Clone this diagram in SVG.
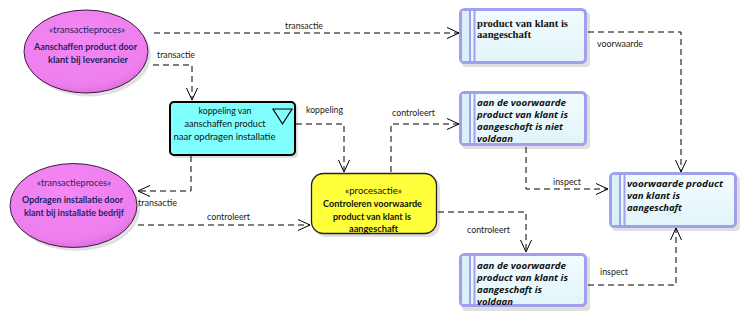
<svg xmlns="http://www.w3.org/2000/svg" width="747" height="318" viewBox="0 0 747 318">
<defs>
<style>
text{lengthAdjust:spacingAndGlyphs}
.lbl{font-family:Lato,"Liberation Sans",sans-serif;font-size:9.5px;fill:#222}
.st{font-family:Lato,"Liberation Sans",sans-serif;font-size:9.5px;fill:#1f1f5f;text-anchor:middle}
.bt{font-family:Lato,"Liberation Sans",sans-serif;font-size:9.5px;font-weight:bold;fill:#1f1f5f;text-anchor:middle}
.ct{font-family:Lato,"Liberation Sans",sans-serif;font-size:9.5px;fill:#111;text-anchor:middle}
.yt{font-family:Lato,"Liberation Sans",sans-serif;font-size:9.5px;font-weight:bold;fill:#111;text-anchor:middle}
.sf{font-family:"Liberation Serif","DejaVu Serif",serif;font-size:11px;font-weight:bold;fill:#111}
.it{font-family:"Open Sans","Liberation Sans",sans-serif;font-size:9.5px;font-weight:bold;font-style:italic;fill:#111}
.con{fill:none;stroke:#000;stroke-width:1;stroke-dasharray:6,4;marker-end:url(#arr)}
.box{fill:url(#bg);stroke:#a0a0ee;stroke-width:3}
.stripe{stroke:#a0a0ee;stroke-width:2}
.sh{fill:#000;opacity:0.12}
</style>
<linearGradient id="bg" x1="0" y1="0" x2="0" y2="1">
<stop offset="0" stop-color="#f2fcff"/>
<stop offset="1" stop-color="#e2f4f9"/>
</linearGradient>
<radialGradient id="vg" cx="0.45" cy="0.35" r="0.7">
<stop offset="0" stop-color="#f488f4"/>
<stop offset="0.8" stop-color="#ee7eee"/>
<stop offset="1" stop-color="#d868d8"/>
</radialGradient>
<marker id="arr" markerUnits="userSpaceOnUse" markerWidth="14" markerHeight="14" refX="12" refY="6" orient="auto" overflow="visible">
<path d="M0,0.5 L12,6 L0,11.5" fill="none" stroke="#000" stroke-width="1"/>
</marker>
</defs>

<g id="connectors">
<path class="con" d="M154,33 H459"/>
<text class="lbl" x="285" y="29" textLength="38" lengthAdjust="spacingAndGlyphs">transactie</text>
<path class="con" d="M153,65 H192 V100"/>
<text class="lbl" x="157" y="58" textLength="38" lengthAdjust="spacingAndGlyphs">transactie</text>
<path class="con" d="M296,124 H344 V172"/>
<text class="lbl" x="306" y="113" textLength="37" lengthAdjust="spacingAndGlyphs">koppeling</text>
<path class="con" d="M391,172 V124 H459"/>
<text class="lbl" x="392" y="116" textLength="43" lengthAdjust="spacingAndGlyphs">controleert</text>
<path class="con" d="M588,32 H681 V172"/>
<text class="lbl" x="597" y="47" textLength="46" lengthAdjust="spacingAndGlyphs">voorwaarde</text>
<path class="con" d="M526,147 V189 H608"/>
<text class="lbl" x="553" y="185" textLength="28" lengthAdjust="spacingAndGlyphs">inspect</text>
<path class="con" d="M588,285 H676 V228"/>
<text class="lbl" x="600" y="275" textLength="28" lengthAdjust="spacingAndGlyphs">inspect</text>
<path class="con" d="M438,212 H526 V252"/>
<text class="lbl" x="467" y="233" textLength="43" lengthAdjust="spacingAndGlyphs">controleert</text>
<path class="con" d="M191,156 V191 H138"/>
<text class="lbl" x="138" y="206" textLength="39" lengthAdjust="spacingAndGlyphs">transactie</text>
<path class="con" d="M138,225 H310"/>
<text class="lbl" x="207" y="220" textLength="43" lengthAdjust="spacingAndGlyphs">controleert</text>
</g>

<g id="n1">
<ellipse class="sh" cx="89" cy="55" rx="62" ry="41.5"/>
<ellipse cx="86" cy="51.5" rx="62" ry="41.5" fill="url(#vg)" stroke="#3a1a3a" stroke-width="1"/>
<text class="st" x="87" y="33" textLength="76" lengthAdjust="spacingAndGlyphs">«transactieproces»</text>
<text class="bt" x="85.5" y="50" textLength="103" lengthAdjust="spacingAndGlyphs">Aanschaffen product door</text>
<text class="bt" x="88" y="63" textLength="80" lengthAdjust="spacingAndGlyphs">klant bij leverancier</text>
</g>

<g id="n2">
<ellipse class="sh" cx="76.5" cy="209" rx="63.5" ry="42"/>
<ellipse cx="73.5" cy="205.5" rx="63.5" ry="42" fill="url(#vg)" stroke="#3a1a3a" stroke-width="1"/>
<text class="st" x="74" y="186" textLength="74" lengthAdjust="spacingAndGlyphs">«transactieproces»</text>
<text class="bt" x="72.5" y="203" textLength="101" lengthAdjust="spacingAndGlyphs">Opdragen installatie door</text>
<text class="bt" x="74" y="216" textLength="100" lengthAdjust="spacingAndGlyphs">klant bij installatie bedrijf</text>
</g>

<g id="n3">
<rect class="sh" x="172" y="104" width="126" height="54" rx="4"/>
<rect x="170" y="102" width="125" height="53" rx="4" fill="#80ffff" stroke="#000" stroke-width="2"/>
<path d="M273,109 H292 L282.5,124 Z" fill="none" stroke="#000" stroke-width="1.2"/>
<text class="ct" x="225" y="114" textLength="53" lengthAdjust="spacingAndGlyphs">koppeling van</text>
<text class="ct" x="225" y="127" textLength="81" lengthAdjust="spacingAndGlyphs">aanschaffen product</text>
<text class="ct" x="224.5" y="140" textLength="102" lengthAdjust="spacingAndGlyphs">naar opdragen installatie</text>
</g>

<g id="n4">
<rect class="sh" x="314" y="176" width="126" height="61" rx="12"/>
<rect x="311.5" y="173.5" width="125" height="60" rx="12" fill="#ffff3c" stroke="#222" stroke-width="1.3"/>
<text class="ct" x="373.5" y="194" textLength="57" lengthAdjust="spacingAndGlyphs">«procesactie»</text>
<text class="yt" x="372.5" y="206.5" textLength="99" lengthAdjust="spacingAndGlyphs">Controleren voorwaarde</text>
<text class="yt" x="372" y="219.5" textLength="78" lengthAdjust="spacingAndGlyphs">product van klant is</text>
<text class="yt" x="373.5" y="232" textLength="49" lengthAdjust="spacingAndGlyphs">aangeschaft</text>
</g>

<g id="n5">
<rect class="sh" x="462" y="12" width="128" height="55" rx="4"/>
<rect class="box" x="460.5" y="9.5" width="125" height="53" rx="4"/>
<rect x="462" y="11" width="8" height="50" fill="#daf0f8"/>
<line class="stripe" x1="470" y1="11" x2="470" y2="61"/>
<line class="stripe" x1="474.5" y1="11" x2="474.5" y2="61"/>
<text class="sf" x="477" y="26.5" textLength="91" lengthAdjust="spacingAndGlyphs">product van klant is</text>
<text class="sf" x="477" y="37.5" textLength="54" lengthAdjust="spacingAndGlyphs">aangeschaft</text>
</g>

<g id="n6">
<rect class="sh" x="462" y="94" width="128" height="55" rx="4"/>
<rect class="box" x="460.5" y="92.5" width="125" height="52" rx="4"/>
<rect x="462" y="94" width="8" height="49" fill="#daf0f8"/>
<line class="stripe" x1="470" y1="94" x2="470" y2="143"/>
<line class="stripe" x1="474.5" y1="94" x2="474.5" y2="143"/>
<text class="it" x="477" y="106" textLength="89" lengthAdjust="spacingAndGlyphs">aan de voorwaarde</text>
<text class="it" x="477" y="118" textLength="91" lengthAdjust="spacingAndGlyphs">product van klant is</text>
<text class="it" x="477" y="130" textLength="86" lengthAdjust="spacingAndGlyphs">aangeschaft is niet</text>
<text class="it" x="477" y="142" textLength="36" lengthAdjust="spacingAndGlyphs">voldaan</text>
</g>

<g id="n7">
<rect class="sh" x="462" y="256" width="128" height="55" rx="4"/>
<rect class="box" x="460.5" y="254.5" width="125" height="51" rx="4"/>
<rect x="462" y="256" width="8" height="48" fill="#daf0f8"/>
<line class="stripe" x1="470" y1="256" x2="470" y2="304"/>
<line class="stripe" x1="474.5" y1="256" x2="474.5" y2="304"/>
<text class="it" x="477" y="269" textLength="89" lengthAdjust="spacingAndGlyphs">aan de voorwaarde</text>
<text class="it" x="477" y="281" textLength="91" lengthAdjust="spacingAndGlyphs">product van klant is</text>
<text class="it" x="477" y="293" textLength="65" lengthAdjust="spacingAndGlyphs">aangeschaft is</text>
<text class="it" x="477" y="305" textLength="36" lengthAdjust="spacingAndGlyphs">voldaan</text>
</g>

<g id="n8">
<rect class="sh" x="612" y="176" width="128" height="55" rx="4"/>
<rect class="box" x="610.5" y="173.5" width="125" height="53" rx="4"/>
<rect x="612" y="175" width="8" height="50" fill="#daf0f8"/>
<line class="stripe" x1="620" y1="175" x2="620" y2="225"/>
<line class="stripe" x1="624.5" y1="175" x2="624.5" y2="225"/>
<text class="it" x="627" y="187" textLength="96" lengthAdjust="spacingAndGlyphs">voorwaarde product</text>
<text class="it" x="627" y="199" textLength="53" lengthAdjust="spacingAndGlyphs">van klant is</text>
<text class="it" x="627" y="211" textLength="55" lengthAdjust="spacingAndGlyphs">aangeschaft</text>
</g>
</svg>
